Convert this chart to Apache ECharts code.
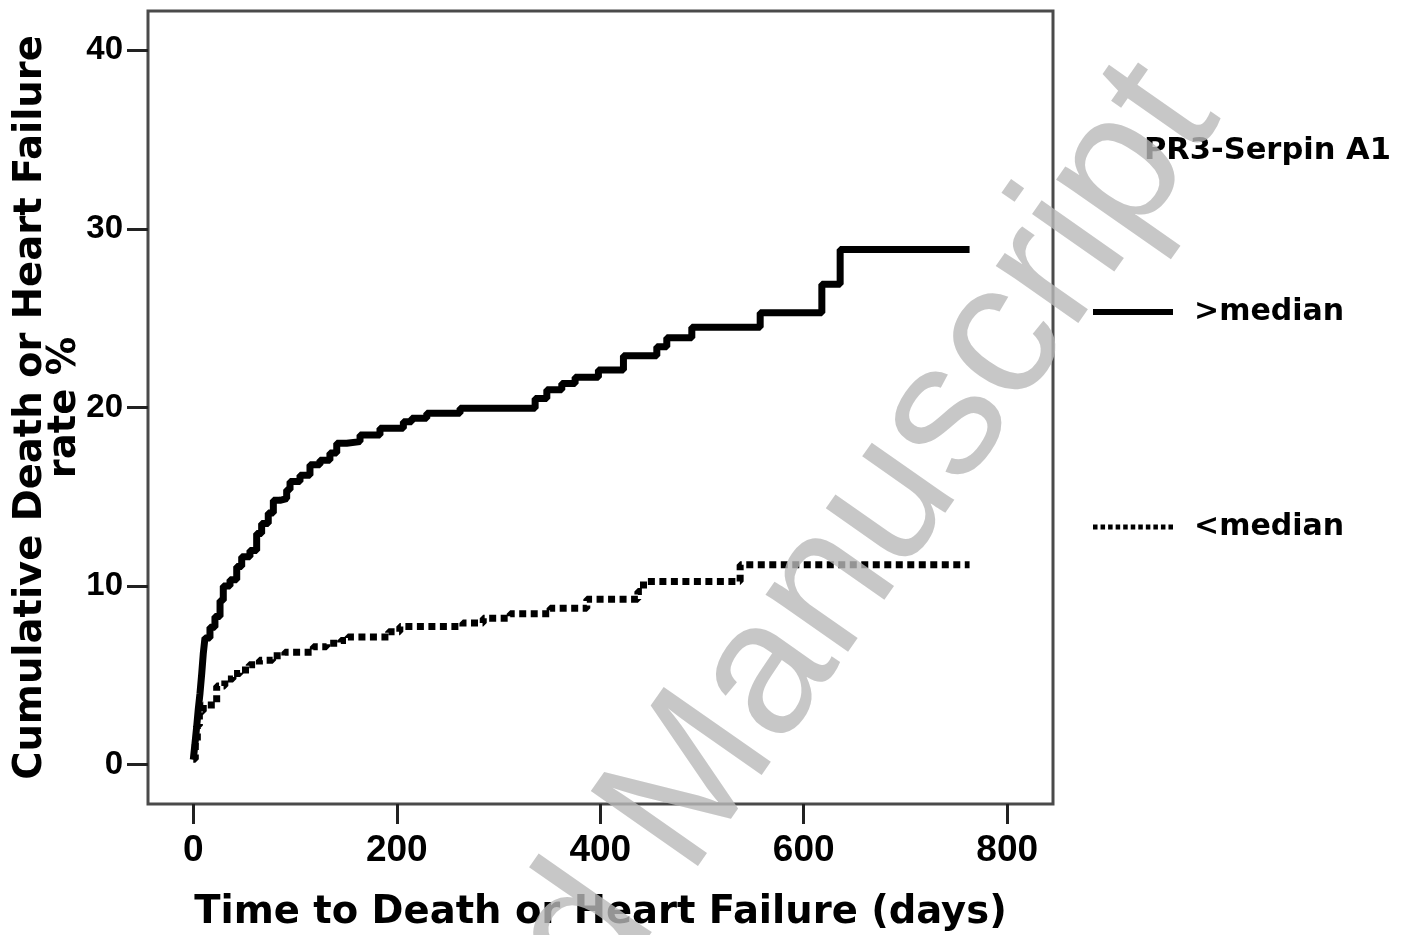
<!DOCTYPE html>
<html>
<head>
<meta charset="utf-8">
<script src="https://cdn.jsdelivr.net/npm/echarts@6/dist/echarts.min.js"></script>
<style>html,body{margin:0;padding:0;background:#fff;}#c{width:1413px;height:935px;}</style>
</head>
<body>
<div id="c"></div>
<script>
// ---- data (days, cumulative %) ----
const aboveDays  = [0, 1.7, 3.3, 4.9, 6.6, 8.3, 9.8, 11.5, 16.4, 21.3, 26.3, 29.5, 36.1, 42.7, 47.6, 55.7, 62.3, 67.2, 73.7, 78.7, 85.2, 91.8, 95.1, 104.9, 114.7, 124.5, 134.3, 141, 150.8, 163.9, 183.5, 206.5, 214.7, 229.5, 262.2, 336, 347.5, 362.2, 375.3, 398.2, 422.8, 455.6, 465.4, 490, 557.2, 617.8, 635.8, 763];
const aboveRates = [0.28, 1.2, 2.1, 3.1, 4.0, 5.1, 6.2, 7.1, 7.7, 8.3, 9.2, 10.0, 10.35, 11.1, 11.65, 12.0, 12.95, 13.5, 14.1, 14.8, 14.9, 15.4, 15.85, 16.2, 16.8, 17.05, 17.45, 18.0, 18.09, 18.46, 18.84, 19.2, 19.4, 19.68, 19.96, 20.5, 21.0, 21.35, 21.7, 22.1, 22.9, 23.4, 23.9, 24.5, 25.3, 26.9, 28.85, 28.85];
const belowDays  = [0, 2, 4, 6, 9.8, 23, 31, 39, 46, 55, 65, 78, 90, 118, 131, 145, 152, 192, 203, 265, 285, 311.5, 350.7, 386.8, 437, 442.5, 537.5, 763];
const belowRates = [0.3, 1.3, 2.2, 3.0, 3.35, 4.4, 4.8, 5.1, 5.3, 5.6, 5.85, 6.1, 6.3, 6.6, 6.8, 6.95, 7.15, 7.45, 7.74, 7.93, 8.2, 8.45, 8.76, 9.27, 9.7, 10.26, 11.19, 11.19];
const xTicks = [0, 200, 400, 600, 800];
const yTicks = [0, 10, 20, 30, 40];
const seriesNames = ['>median', '<median'];
const legendTitle = 'PR3-Serpin A1';
const xTitle = 'Time to Death or Heart Failure (days)';
const yTitle = 'Cumulative Death or Heart Failure\nrate %';
const watermark = 'Accepted Manuscript';

const pairs = (xs, ys) => xs.map((x, i) => [x, ys[i]]);

// legend icons: solid bar, and a row of square dots
const solidIcon = 'path://M0,0H80V6H0Z';
let dotPath = '';
for (let i = 0; i < 11; i++) { const x0 = i * 7.5; dotPath += 'M' + x0 + ',0H' + (x0 + 4.5) + 'V5H' + x0 + 'Z'; }
const dottedIcon = 'path://' + dotPath;

const chart = echarts.init(document.getElementById('c'));
chart.setOption({
  animation: false,
  backgroundColor: '#fff',
  title: {
    text: legendTitle, left: 1139, top: 131,
    textStyle: { fontFamily: 'DejaVu Sans', fontWeight: 'bold', fontSize: 30.5, color: '#000' }
  },
  legend: {
    orient: 'vertical', left: 1088, top: 292,
    itemWidth: 80, itemHeight: 16, itemGap: 185,
    textStyle: { fontFamily: 'DejaVu Sans', fontWeight: 'bold', fontSize: 30, color: '#000', padding: [0, 0, 0, 16] },
    data: [
      { name: seriesNames[0], icon: solidIcon, itemStyle: { color: '#000' } },
      { name: seriesNames[1], icon: dottedIcon, itemStyle: { color: '#000' } }
    ]
  },
  grid: { left: 148, top: 11, right: 360, bottom: 131, containLabel: false, outerBoundsMode: 'none',
          show: true, borderColor: '#4a4a4a', borderWidth: 3, backgroundColor: 'transparent' },
  xAxis: {
    type: 'value', min: -44.5, max: 845,
    name: xTitle, nameLocation: 'middle', nameGap: 89,
    nameTextStyle: { fontFamily: 'DejaVu Sans', fontWeight: 'bold', fontSize: 38.5, color: '#000' },
    axisLine: { show: false, onZero: false },
    axisTick: { show: true, length: 20, customValues: xTicks, lineStyle: { color: '#222', width: 3 } },
    axisLabel: { customValues: xTicks, margin: 28, fontFamily: 'Liberation Sans', fontWeight: 'bold', fontSize: 37, color: '#000' },
    splitLine: { show: false }
  },
  yAxis: {
    type: 'value', min: -2.2, max: 42.2,
    name: yTitle, nameLocation: 'middle', nameGap: 66, nameRotate: 90, nameMoveOverlap: false,
    nameTextStyle: { fontFamily: 'DejaVu Sans', fontWeight: 'bold', fontSize: 38.5, lineHeight: 34, color: '#000' },
    axisLine: { show: false, onZero: false },
    axisTick: { show: true, length: 21, customValues: yTicks, lineStyle: { color: '#222', width: 3 } },
    axisLabel: { customValues: yTicks, margin: 25, fontFamily: 'Liberation Sans', fontWeight: 'bold', fontSize: 33, color: '#000' },
    splitLine: { show: false }
  },
  series: [
    { name: seriesNames[0], type: 'line', step: 'end', symbol: 'none', data: pairs(aboveDays, aboveRates),
      lineStyle: { color: '#000', width: 7 }, itemStyle: { color: '#000' } },
    { name: seriesNames[1], type: 'line', step: 'end', symbol: 'none', data: pairs(belowDays, belowRates),
      lineStyle: { color: '#000', width: 7, type: [7, 4.5] }, itemStyle: { color: '#000' } }
  ],
  graphic: [{
    type: 'text', x: 1257, y: 142, rotation: 55 * Math.PI / 180, z: 100, silent: true,
    style: { text: watermark, fontFamily: 'Liberation Sans', fontSize: 190, fill: 'rgba(185,185,185,0.8)', align: 'right', verticalAlign: 'bottom' }
  }]
});
</script>
</body>
</html>
